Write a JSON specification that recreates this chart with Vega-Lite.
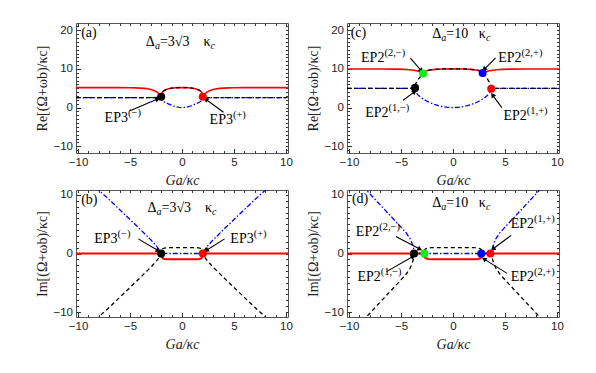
{
"$schema":"https://vega.github.io/schema/vega-lite/v6.json",
"padding":{"left":35,"top":22,"right":0,"bottom":0},
"config":{"view":{"stroke":"#555","strokeWidth":1},
"axis":{"minExtent":0,"labelFlush":false,"labelOverlap":false,"grid":false,"domain":false,"tickColor":"#333","tickWidth":1,"labelFont":"Liberation Sans","labelFontSize":11.5,"labelColor":"#222","titleFont":"Liberation Serif","titleFontSize":14,"titleFontWeight":"normal","titleColor":"#222","labelPadding":8,"titlePadding":3},
"axisX":{"titleFontStyle":"italic","titleFontSize":14,"titlePadding":5.5}},
"datasets":{
"h":[{"x":0,"y":0}],
"ca":[{"s":"r","x":-10.2,"y":5.18},{"s":"r","x":-8,"y":5.18},{"s":"r","x":-6,"y":5.16},{"s":"r","x":-5,"y":5.13},{"s":"r","x":-4.5,"y":5.1},{"s":"r","x":-4,"y":5.05},{"s":"r","x":-3.6,"y":4.97},{"s":"r","x":-3.2,"y":4.82},{"s":"r","x":-2.9,"y":4.62},{"s":"r","x":-2.6,"y":4.3},{"s":"r","x":-2.4,"y":4.0},{"s":"r","x":-2.25,"y":3.65},{"s":"r","x":-2.12,"y":3.3},{"s":"r","x":-2.03,"y":3.0},{"s":"r","x":-2,"y":2.8},{"s":"r","x":-1.98,"y":3.3},{"s":"r","x":-1.94,"y":3.7},{"s":"r","x":-1.87,"y":4.05},{"s":"r","x":-1.75,"y":4.35},{"s":"r","x":-1.55,"y":4.65},{"s":"r","x":-1.3,"y":4.87},{"s":"r","x":-1,"y":5.03},{"s":"r","x":-0.6,"y":5.14},{"s":"r","x":-0.3,"y":5.18},{"s":"r","x":0,"y":5.2},{"s":"r","x":0.3,"y":5.18},{"s":"r","x":0.6,"y":5.14},{"s":"r","x":1,"y":5.03},{"s":"r","x":1.3,"y":4.87},{"s":"r","x":1.55,"y":4.65},{"s":"r","x":1.75,"y":4.35},{"s":"r","x":1.87,"y":4.05},{"s":"r","x":1.94,"y":3.7},{"s":"r","x":1.98,"y":3.3},{"s":"r","x":2,"y":2.8},{"s":"r","x":2.03,"y":3.0},{"s":"r","x":2.12,"y":3.3},{"s":"r","x":2.25,"y":3.65},{"s":"r","x":2.4,"y":4.0},{"s":"r","x":2.6,"y":4.3},{"s":"r","x":2.9,"y":4.62},{"s":"r","x":3.2,"y":4.82},{"s":"r","x":3.6,"y":4.97},{"s":"r","x":4,"y":5.05},{"s":"r","x":4.5,"y":5.1},{"s":"r","x":5,"y":5.13},{"s":"r","x":6,"y":5.16},{"s":"r","x":8,"y":5.18},{"s":"r","x":10.2,"y":5.18},
{"s":"k","x":-10.2,"y":2.6},{"s":"k","x":-3,"y":2.6},{"s":"k","x":-2.4,"y":2.61},{"s":"k","x":-2.15,"y":2.66},{"s":"k","x":-2.05,"y":2.72},{"s":"k","x":-2,"y":2.8},{"s":"k","x":-1.98,"y":3.3},{"s":"k","x":-1.94,"y":3.7},{"s":"k","x":-1.87,"y":4.05},{"s":"k","x":-1.75,"y":4.35},{"s":"k","x":-1.55,"y":4.65},{"s":"k","x":-1.3,"y":4.87},{"s":"k","x":-1,"y":5.03},{"s":"k","x":-0.6,"y":5.14},{"s":"k","x":-0.3,"y":5.18},{"s":"k","x":0,"y":5.2},{"s":"k","x":0.3,"y":5.18},{"s":"k","x":0.6,"y":5.14},{"s":"k","x":1,"y":5.03},{"s":"k","x":1.3,"y":4.87},{"s":"k","x":1.55,"y":4.65},{"s":"k","x":1.75,"y":4.35},{"s":"k","x":1.87,"y":4.05},{"s":"k","x":1.94,"y":3.7},{"s":"k","x":1.98,"y":3.3},{"s":"k","x":2,"y":2.8},{"s":"k","x":2.05,"y":2.72},{"s":"k","x":2.15,"y":2.66},{"s":"k","x":2.4,"y":2.61},{"s":"k","x":3,"y":2.6},{"s":"k","x":10.2,"y":2.6},
{"s":"b","x":-10.2,"y":2.6},{"s":"b","x":-3,"y":2.6},{"s":"b","x":-2.4,"y":2.61},{"s":"b","x":-2.15,"y":2.66},{"s":"b","x":-2.05,"y":2.72},{"s":"b","x":-2,"y":2.8},{"s":"b","x":-1.98,"y":2.35},{"s":"b","x":-1.93,"y":2.0},{"s":"b","x":-1.85,"y":1.75},{"s":"b","x":-1.7,"y":1.45},{"s":"b","x":-1.5,"y":1.17},{"s":"b","x":-1.25,"y":0.88},{"s":"b","x":-1,"y":0.6},{"s":"b","x":-0.75,"y":0.35},{"s":"b","x":-0.5,"y":0.16},{"s":"b","x":-0.25,"y":0.04},{"s":"b","x":0,"y":0},{"s":"b","x":0.25,"y":0.04},{"s":"b","x":0.5,"y":0.16},{"s":"b","x":0.75,"y":0.35},{"s":"b","x":1,"y":0.6},{"s":"b","x":1.25,"y":0.88},{"s":"b","x":1.5,"y":1.17},{"s":"b","x":1.7,"y":1.45},{"s":"b","x":1.85,"y":1.75},{"s":"b","x":1.93,"y":2.0},{"s":"b","x":1.98,"y":2.35},{"s":"b","x":2,"y":2.8},{"s":"b","x":2.05,"y":2.72},{"s":"b","x":2.15,"y":2.66},{"s":"b","x":2.4,"y":2.61},{"s":"b","x":3,"y":2.6},{"s":"b","x":10.2,"y":2.6}],
"cb":[{"s":"r","x":-10.2,"y":0},{"s":"r","x":-2,"y":0},{"s":"r","x":-1.98,"y":-0.4},{"s":"r","x":-1.93,"y":-0.65},{"s":"r","x":-1.85,"y":-0.82},{"s":"r","x":-1.7,"y":-0.93},{"s":"r","x":-1.45,"y":-0.99},{"s":"r","x":-1,"y":-1},{"s":"r","x":1,"y":-1},{"s":"r","x":1.45,"y":-0.99},{"s":"r","x":1.7,"y":-0.93},{"s":"r","x":1.85,"y":-0.82},{"s":"r","x":1.93,"y":-0.65},{"s":"r","x":1.98,"y":-0.4},{"s":"r","x":2,"y":0},{"s":"r","x":10.2,"y":0},
{"s":"k","x":-8.3,"y":-11.3},{"s":"k","x":-8,"y":-10.8},{"s":"k","x":-7,"y":-9.2},{"s":"k","x":-6,"y":-7.5},{"s":"k","x":-5,"y":-5.8},{"s":"k","x":-4,"y":-4.1},{"s":"k","x":-3.5,"y":-3.2},{"s":"k","x":-3,"y":-2.35},{"s":"k","x":-2.7,"y":-1.75},{"s":"k","x":-2.45,"y":-1.25},{"s":"k","x":-2.25,"y":-0.8},{"s":"k","x":-2.1,"y":-0.45},{"s":"k","x":-2,"y":0},{"s":"k","x":-1.98,"y":0.4},{"s":"k","x":-1.93,"y":0.65},{"s":"k","x":-1.85,"y":0.82},{"s":"k","x":-1.7,"y":0.93},{"s":"k","x":-1.45,"y":0.99},{"s":"k","x":-1,"y":1},{"s":"k","x":1,"y":1},{"s":"k","x":1.45,"y":0.99},{"s":"k","x":1.7,"y":0.93},{"s":"k","x":1.85,"y":0.82},{"s":"k","x":1.93,"y":0.65},{"s":"k","x":1.98,"y":0.4},{"s":"k","x":2,"y":0},{"s":"k","x":2.1,"y":-0.45},{"s":"k","x":2.25,"y":-0.8},{"s":"k","x":2.45,"y":-1.25},{"s":"k","x":2.7,"y":-1.75},{"s":"k","x":3,"y":-2.35},{"s":"k","x":3.5,"y":-3.2},{"s":"k","x":4,"y":-4.1},{"s":"k","x":5,"y":-5.8},{"s":"k","x":6,"y":-7.5},{"s":"k","x":7,"y":-9.2},{"s":"k","x":8,"y":-10.8},{"s":"k","x":8.3,"y":-11.3},
{"s":"b","x":-8.3,"y":11.3},{"s":"b","x":-8,"y":10.8},{"s":"b","x":-7,"y":9.2},{"s":"b","x":-6,"y":7.5},{"s":"b","x":-5,"y":5.8},{"s":"b","x":-4,"y":4.1},{"s":"b","x":-3.5,"y":3.2},{"s":"b","x":-3,"y":2.35},{"s":"b","x":-2.7,"y":1.75},{"s":"b","x":-2.45,"y":1.25},{"s":"b","x":-2.25,"y":0.8},{"s":"b","x":-2.1,"y":0.45},{"s":"b","x":-2,"y":0},{"s":"b","x":2,"y":0},{"s":"b","x":2.1,"y":0.45},{"s":"b","x":2.25,"y":0.8},{"s":"b","x":2.45,"y":1.25},{"s":"b","x":2.7,"y":1.75},{"s":"b","x":3,"y":2.35},{"s":"b","x":3.5,"y":3.2},{"s":"b","x":4,"y":4.1},{"s":"b","x":5,"y":5.8},{"s":"b","x":6,"y":7.5},{"s":"b","x":7,"y":9.2},{"s":"b","x":8,"y":10.8},{"s":"b","x":8.3,"y":11.3}],
"cc":[{"s":"r","x":-10.2,"y":10},{"s":"r","x":-7,"y":10},{"s":"r","x":-5.5,"y":9.97},{"s":"r","x":-4.7,"y":9.9},{"s":"r","x":-4.2,"y":9.8},{"s":"r","x":-3.8,"y":9.67},{"s":"r","x":-3.5,"y":9.52},{"s":"r","x":-3.25,"y":9.35},{"s":"r","x":-3.05,"y":9.15},{"s":"r","x":-2.93,"y":8.98},{"s":"r","x":-2.87,"y":8.85},{"s":"r","x":-2.84,"y":9.1},{"s":"r","x":-2.75,"y":9.35},{"s":"r","x":-2.55,"y":9.55},{"s":"r","x":-2.2,"y":9.75},{"s":"r","x":-1.7,"y":9.9},{"s":"r","x":-1,"y":10},{"s":"r","x":0,"y":10.05},{"s":"r","x":1,"y":10},{"s":"r","x":1.7,"y":9.9},{"s":"r","x":2.2,"y":9.75},{"s":"r","x":2.55,"y":9.55},{"s":"r","x":2.75,"y":9.35},{"s":"r","x":2.84,"y":9.1},{"s":"r","x":2.87,"y":8.85},{"s":"r","x":2.93,"y":8.98},{"s":"r","x":3.05,"y":9.15},{"s":"r","x":3.25,"y":9.35},{"s":"r","x":3.5,"y":9.52},{"s":"r","x":3.8,"y":9.67},{"s":"r","x":4.2,"y":9.8},{"s":"r","x":4.7,"y":9.9},{"s":"r","x":5.5,"y":9.97},{"s":"r","x":7,"y":10},{"s":"r","x":10.2,"y":10},
{"s":"k","x":-10.2,"y":5},{"s":"k","x":-3.9,"y":5},{"s":"k","x":-3.75,"y":5.02},{"s":"k","x":-3.7,"y":5.1},{"s":"k","x":-3.67,"y":5.6},{"s":"k","x":-3.6,"y":6.1},{"s":"k","x":-3.5,"y":6.6},{"s":"k","x":-3.35,"y":7.25},{"s":"k","x":-3.2,"y":7.8},{"s":"k","x":-3.05,"y":8.3},{"s":"k","x":-2.95,"y":8.6},{"s":"k","x":-2.87,"y":8.85},{"s":"k","x":-2.84,"y":9.1},{"s":"k","x":-2.75,"y":9.35},{"s":"k","x":-2.55,"y":9.55},{"s":"k","x":-2.2,"y":9.75},{"s":"k","x":-1.7,"y":9.9},{"s":"k","x":-1,"y":10},{"s":"k","x":0,"y":10.05},{"s":"k","x":1,"y":10},{"s":"k","x":1.7,"y":9.9},{"s":"k","x":2.2,"y":9.75},{"s":"k","x":2.55,"y":9.55},{"s":"k","x":2.75,"y":9.35},{"s":"k","x":2.84,"y":9.1},{"s":"k","x":2.87,"y":8.85},{"s":"k","x":2.95,"y":8.6},{"s":"k","x":3.05,"y":8.3},{"s":"k","x":3.2,"y":7.8},{"s":"k","x":3.35,"y":7.25},{"s":"k","x":3.5,"y":6.6},{"s":"k","x":3.6,"y":6.1},{"s":"k","x":3.67,"y":5.6},{"s":"k","x":3.7,"y":5.1},{"s":"k","x":3.75,"y":5.02},{"s":"k","x":3.9,"y":5},{"s":"k","x":10.2,"y":5},
{"s":"b","x":-10.2,"y":5},{"s":"b","x":-3.9,"y":5},{"s":"b","x":-3.75,"y":5.02},{"s":"b","x":-3.7,"y":5.1},{"s":"b","x":-3.67,"y":4.6},{"s":"b","x":-3.6,"y":4.1},{"s":"b","x":-3.5,"y":3.7},{"s":"b","x":-3.3,"y":3.1},{"s":"b","x":-3,"y":2.45},{"s":"b","x":-2.6,"y":1.8},{"s":"b","x":-2.2,"y":1.25},{"s":"b","x":-1.8,"y":0.85},{"s":"b","x":-1.4,"y":0.5},{"s":"b","x":-1,"y":0.25},{"s":"b","x":-0.5,"y":0.07},{"s":"b","x":0,"y":0},{"s":"b","x":0.5,"y":0.07},{"s":"b","x":1,"y":0.25},{"s":"b","x":1.4,"y":0.5},{"s":"b","x":1.8,"y":0.85},{"s":"b","x":2.2,"y":1.25},{"s":"b","x":2.6,"y":1.8},{"s":"b","x":3,"y":2.45},{"s":"b","x":3.3,"y":3.1},{"s":"b","x":3.5,"y":3.7},{"s":"b","x":3.6,"y":4.1},{"s":"b","x":3.67,"y":4.6},{"s":"b","x":3.7,"y":5.1},{"s":"b","x":3.75,"y":5.02},{"s":"b","x":3.9,"y":5},{"s":"b","x":10.2,"y":5}],
"cd":[{"s":"r","x":-10.2,"y":0},{"s":"r","x":-2.87,"y":0},{"s":"r","x":-2.82,"y":-0.4},{"s":"r","x":-2.75,"y":-0.62},{"s":"r","x":-2.6,"y":-0.82},{"s":"r","x":-2.4,"y":-0.93},{"s":"r","x":-2.1,"y":-0.99},{"s":"r","x":-1.6,"y":-1},{"s":"r","x":1.6,"y":-1},{"s":"r","x":2.1,"y":-0.99},{"s":"r","x":2.4,"y":-0.93},{"s":"r","x":2.6,"y":-0.82},{"s":"r","x":2.75,"y":-0.62},{"s":"r","x":2.82,"y":-0.4},{"s":"r","x":2.87,"y":0},{"s":"r","x":10.2,"y":0},
{"s":"k","x":-8.7,"y":-11.5},{"s":"k","x":-8,"y":-10.2},{"s":"k","x":-7,"y":-8.3},{"s":"k","x":-6,"y":-6.4},{"s":"k","x":-5,"y":-4.5},{"s":"k","x":-4.5,"y":-3.5},{"s":"k","x":-4.15,"y":-2.6},{"s":"k","x":-3.95,"y":-1.8},{"s":"k","x":-3.82,"y":-1.1},{"s":"k","x":-3.75,"y":-0.5},{"s":"k","x":-3.72,"y":0},{"s":"k","x":-2.87,"y":0},{"s":"k","x":-2.82,"y":0.4},{"s":"k","x":-2.75,"y":0.62},{"s":"k","x":-2.6,"y":0.82},{"s":"k","x":-2.4,"y":0.93},{"s":"k","x":-2.1,"y":0.99},{"s":"k","x":-1.6,"y":1},{"s":"k","x":1.6,"y":1},{"s":"k","x":2.1,"y":0.99},{"s":"k","x":2.4,"y":0.93},{"s":"k","x":2.6,"y":0.82},{"s":"k","x":2.75,"y":0.62},{"s":"k","x":2.82,"y":0.4},{"s":"k","x":2.87,"y":0},{"s":"k","x":3.72,"y":0},{"s":"k","x":3.75,"y":-0.5},{"s":"k","x":3.82,"y":-1.1},{"s":"k","x":3.95,"y":-1.8},{"s":"k","x":4.15,"y":-2.6},{"s":"k","x":4.5,"y":-3.5},{"s":"k","x":5,"y":-4.5},{"s":"k","x":6,"y":-6.4},{"s":"k","x":7,"y":-8.3},{"s":"k","x":8,"y":-10.2},{"s":"k","x":8.7,"y":-11.5},
{"s":"b","x":-8.7,"y":11.5},{"s":"b","x":-8,"y":10.2},{"s":"b","x":-7,"y":8.3},{"s":"b","x":-6,"y":6.4},{"s":"b","x":-5,"y":4.5},{"s":"b","x":-4.5,"y":3.5},{"s":"b","x":-4.15,"y":2.6},{"s":"b","x":-3.95,"y":1.8},{"s":"b","x":-3.82,"y":1.1},{"s":"b","x":-3.75,"y":0.5},{"s":"b","x":-3.72,"y":0},{"s":"b","x":3.72,"y":0},{"s":"b","x":3.75,"y":0.5},{"s":"b","x":3.82,"y":1.1},{"s":"b","x":3.95,"y":1.8},{"s":"b","x":4.15,"y":2.6},{"s":"b","x":4.5,"y":3.5},{"s":"b","x":5,"y":4.5},{"s":"b","x":6,"y":6.4},{"s":"b","x":7,"y":8.3},{"s":"b","x":8,"y":10.2},{"s":"b","x":8.7,"y":11.5}],
"pa":[{"x":-2,"y":2.8,"c":"k"},{"x":2,"y":2.8,"c":"r"}],
"pb":[{"x":-2,"y":0,"c":"k"},{"x":2,"y":0,"c":"r"}],
"pc":[{"x":-3.65,"y":5.1,"c":"k"},{"x":-2.87,"y":8.85,"c":"g"},{"x":2.85,"y":8.95,"c":"b"},{"x":3.68,"y":4.9,"c":"r"}],
"pd":[{"x":-3.75,"y":0,"c":"k"},{"x":-2.75,"y":0,"c":"g"},{"x":2.72,"y":0,"c":"b"},{"x":3.6,"y":0,"c":"r"}],
"la":[{"x":-5.2,"y":-2.6,"t":"EP3","sup":"(−)"},{"x":4.9,"y":-3.3,"t":"EP3","sup":"(+)"}],
"lb":[{"x":-6.2,"y":2.55,"t":"EP3","sup":"(−)"},{"x":6.9,"y":2.55,"t":"EP3","sup":"(+)"}],
"lc":[{"x":-6.6,"y":12.8,"t":"EP2","sup":"(2,−)"},{"x":6.6,"y":12.9,"t":"EP2","sup":"(2,+)"},{"x":-6.2,"y":-1.3,"t":"EP2","sup":"(1,−)"},{"x":7.1,"y":-2.1,"t":"EP2","sup":"(1,+)"}],
"ld":[{"x":-7.1,"y":3.7,"t":"EP2","sup":"(2,−)"},{"x":7.8,"y":5.1,"t":"EP2","sup":"(1,+)"},{"x":-6.95,"y":-4.1,"t":"EP2","sup":"(1,−)"},{"x":7.8,"y":-4.1,"t":"EP2","sup":"(2,+)"}],
"aa":[{"x":-5.0,"y":-0.8,"x2":-2.4,"y2":2.15},{"x":4.0,"y":-1.2,"x2":2.35,"y2":2.05}],
"ab":[{"x":-4.2,"y":2.5,"x2":-2.35,"y2":0.55},{"x":4.1,"y":2.5,"x2":2.4,"y2":0.6}],
"ac":[{"x":-4.1,"y":12.8,"x2":-3.1,"y2":9.7},{"x":4.1,"y":12.9,"x2":3.05,"y2":10.05},{"x":-4.8,"y":1.9,"x2":-3.75,"y2":4.0},{"x":4.7,"y":0,"x2":3.85,"y2":3.1}],
"ad":[{"x":-5.5,"y":2.9,"x2":-3.25,"y2":0.8},{"x":5.6,"y":3.1,"x2":3.9,"y2":0.85},{"x":-6.4,"y":-3.1,"x2":-3.9,"y2":-0.55},{"x":5.2,"y":-3.4,"x2":3.05,"y2":-1.0}],
"na":[{"x":-9.7,"y":19.3,"t":"(a)"}],
"nb":[{"x":-9.7,"y":9.2,"t":"(b)"}],
"nc":[{"x":-9.85,"y":19.3,"t":"(c)"}],
"nd":[{"x":-9.73,"y":9.35,"t":"(d)"}],
"da":[{"x":-2.61,"y":16.95,"t1":"Δ","t2":"a","t3":"=3√3\u00a0\u00a0\u00a0\u00a0κ","t4":"c"}],
"db":[{"x":-2.45,"y":7.85,"t1":"Δ","t2":"a","t3":"=3√3\u00a0\u00a0\u00a0\u00a0κ","t4":"c"}],
"dc":[{"x":-1.12,"y":19.1,"t1":"Δ","t2":"a","t3":"=10\u00a0\u00a0\u00a0κ","t4":"c"}],
"dd":[{"x":-1.12,"y":8.65,"t1":"Δ","t2":"a","t3":"=10\u00a0\u00a0\u00a0κ","t4":"c"}]
},
"vconcat":[
{"hconcat":[
{"width":212,"height":130,"resolve":{"axis":{"x":"independent","y":"independent"}},"layer":[
{"data":{"name":"h"},"mark":{"type":"point","opacity":0},"encoding":{"x":{"field":"x","type":"quantitative","scale":{"domain":[-10.2,10.2],"nice":false,"zero":false},"axis":{"orient":"bottom","labels":false,"title":null,"tickSize":-2.5,"values":[-10,-9,-8,-7,-6,-5,-4,-3,-2,-1,0,1,2,3,4,5,6,7,8,9,10]}},"y":{"field":"y","type":"quantitative","scale":{"domain":[-11.75,21.9],"nice":false,"zero":false},"axis":{"orient":"left","labels":false,"title":null,"tickSize":-2.5,"values":[-11,-10,-9,-8,-7,-6,-5,-4,-3,-2,-1,0,1,2,3,4,5,6,7,8,9,10,11,12,13,14,15,16,17,18,19,20,21]}}}},
{"layer":[
{"data":{"name":"ca"},"transform":[{"filter":"datum.s=='r'"}],"mark":{"type":"line","color":"#ff0000","strokeWidth":1.6,"clip":true},"encoding":{"x":{"field":"x","type":"quantitative","scale":{"domain":[-10.2,10.2],"nice":false,"zero":false},"axis":{"orient":"bottom","title":"Ga/κc","tickSize":-4.5,"values":[-10,-5,0,5,10]}},"y":{"field":"y","type":"quantitative","scale":{"domain":[-11.75,21.9],"nice":false,"zero":false},"axis":{"orient":"left","title":"Re[(Ω+ωb)/κc]","tickSize":-4.5,"values":[-10,-5,0,5,10,15,20]}}}},
{"data":{"name":"ca"},"transform":[{"filter":"datum.s=='b'"}],"mark":{"type":"line","color":"#0000ff","strokeWidth":1.3,"strokeDash":[5,2,1.5,2],"clip":true},"encoding":{"x":{"field":"x","type":"quantitative","scale":{"domain":[-10.2,10.2],"nice":false,"zero":false}},"y":{"field":"y","type":"quantitative","scale":{"domain":[-11.75,21.9],"nice":false,"zero":false}}}},
{"data":{"name":"ca"},"transform":[{"filter":"datum.s=='k'"}],"mark":{"type":"line","color":"#000000","strokeWidth":1.3,"strokeDash":[4,3],"clip":true},"encoding":{"x":{"field":"x","type":"quantitative","scale":{"domain":[-10.2,10.2],"nice":false,"zero":false}},"y":{"field":"y","type":"quantitative","scale":{"domain":[-11.75,21.9],"nice":false,"zero":false}}}},
{"data":{"name":"aa"},"mark":{"type":"rule","color":"#000","strokeWidth":1.1},"encoding":{"x":{"field":"x","type":"quantitative","scale":{"domain":[-10.2,10.2],"nice":false,"zero":false}},"y":{"field":"y","type":"quantitative","scale":{"domain":[-11.75,21.9],"nice":false,"zero":false}},"x2":{"field":"x2"},"y2":{"field":"y2"}}},
{"data":{"name":"aa"},"transform":[{"calculate":"atan2((datum.x2-datum.x)*10.39,(datum.y2-datum.y)*3.869)*180/PI","as":"ang"}],"mark":{"type":"point","shape":"triangle","filled":true,"color":"#000","size":30,"opacity":1},"encoding":{"x":{"field":"x2","type":"quantitative","scale":{"domain":[-10.2,10.2],"nice":false,"zero":false}},"y":{"field":"y2","type":"quantitative","scale":{"domain":[-11.75,21.9],"nice":false,"zero":false}},"angle":{"field":"ang","type":"quantitative","scale":null}}},
{"data":{"name":"pa"},"mark":{"type":"circle","size":65,"opacity":1},"encoding":{"x":{"field":"x","type":"quantitative","scale":{"domain":[-10.2,10.2],"nice":false,"zero":false}},"y":{"field":"y","type":"quantitative","scale":{"domain":[-11.75,21.9],"nice":false,"zero":false}},"color":{"field":"c","type":"nominal","scale":{"domain":["k","r","g","b"],"range":["#000000","#ff0000","#11ee11","#0000ff"]},"legend":null}}},
{"data":{"name":"la"},"mark":{"type":"text","align":"right","baseline":"middle","font":"Liberation Serif","fontSize":14,"color":"#000"},"encoding":{"x":{"field":"x","type":"quantitative","scale":{"domain":[-10.2,10.2],"nice":false,"zero":false}},"y":{"field":"y","type":"quantitative","scale":{"domain":[-11.75,21.9],"nice":false,"zero":false}},"text":{"field":"t","type":"nominal"}}},
{"data":{"name":"la"},"mark":{"type":"text","align":"left","baseline":"middle","dy":-5,"font":"Liberation Serif","fontSize":10.5,"color":"#000"},"encoding":{"x":{"field":"x","type":"quantitative","scale":{"domain":[-10.2,10.2],"nice":false,"zero":false}},"y":{"field":"y","type":"quantitative","scale":{"domain":[-11.75,21.9],"nice":false,"zero":false}},"text":{"field":"sup","type":"nominal"}}},
{"data":{"name":"na"},"mark":{"type":"text","align":"left","baseline":"middle","font":"Liberation Serif","fontSize":14,"color":"#000"},"encoding":{"x":{"field":"x","type":"quantitative","scale":{"domain":[-10.2,10.2],"nice":false,"zero":false}},"y":{"field":"y","type":"quantitative","scale":{"domain":[-11.75,21.9],"nice":false,"zero":false}},"text":{"field":"t","type":"nominal"}}},
{"data":{"name":"da"},"mark":{"type":"text","align":"right","baseline":"middle","font":"Liberation Serif","fontSize":14,"color":"#000"},"encoding":{"x":{"field":"x","type":"quantitative","scale":{"domain":[-10.2,10.2],"nice":false,"zero":false}},"y":{"field":"y","type":"quantitative","scale":{"domain":[-11.75,21.9],"nice":false,"zero":false}},"text":{"field":"t1","type":"nominal"}}},
{"data":{"name":"da"},"mark":{"type":"text","align":"left","baseline":"middle","dy":4,"font":"Liberation Serif","fontStyle":"italic","fontSize":10,"color":"#000"},"encoding":{"x":{"field":"x","type":"quantitative","scale":{"domain":[-10.2,10.2],"nice":false,"zero":false}},"y":{"field":"y","type":"quantitative","scale":{"domain":[-11.75,21.9],"nice":false,"zero":false}},"text":{"field":"t2","type":"nominal"}}},
{"data":{"name":"da"},"mark":{"type":"text","align":"left","baseline":"middle","dx":5,"font":"Liberation Serif","fontSize":14,"color":"#000"},"encoding":{"x":{"field":"x","type":"quantitative","scale":{"domain":[-10.2,10.2],"nice":false,"zero":false}},"y":{"field":"y","type":"quantitative","scale":{"domain":[-11.75,21.9],"nice":false,"zero":false}},"text":{"field":"t3","type":"nominal"}}},
{"data":{"name":"da"},"mark":{"type":"text","align":"left","baseline":"middle","dx":55.5,"dy":4,"font":"Liberation Serif","fontStyle":"italic","fontSize":10,"color":"#000"},"encoding":{"x":{"field":"x","type":"quantitative","scale":{"domain":[-10.2,10.2],"nice":false,"zero":false}},"y":{"field":"y","type":"quantitative","scale":{"domain":[-11.75,21.9],"nice":false,"zero":false}},"text":{"field":"t4","type":"nominal"}}}
]},
{"data":{"name":"h"},"mark":{"type":"point","opacity":0},"encoding":{"x":{"field":"x","type":"quantitative","scale":{"domain":[-10.2,10.2],"nice":false,"zero":false},"axis":{"orient":"top","labels":false,"title":null,"tickSize":-2.5,"values":[-10,-9,-8,-7,-6,-5,-4,-3,-2,-1,0,1,2,3,4,5,6,7,8,9,10]}},"y":{"field":"y","type":"quantitative","scale":{"domain":[-11.75,21.9],"nice":false,"zero":false},"axis":{"orient":"right","labels":false,"title":null,"tickSize":-2.5,"values":[-11,-10,-9,-8,-7,-6,-5,-4,-3,-2,-1,0,1,2,3,4,5,6,7,8,9,10,11,12,13,14,15,16,17,18,19,20,21]}}}}
]},
{"width":212,"height":130,"resolve":{"axis":{"x":"independent","y":"independent"}},"layer":[
{"data":{"name":"h"},"mark":{"type":"point","opacity":0},"encoding":{"x":{"field":"x","type":"quantitative","scale":{"domain":[-10.2,10.2],"nice":false,"zero":false},"axis":{"orient":"bottom","labels":false,"title":null,"tickSize":-2.5,"values":[-10,-9,-8,-7,-6,-5,-4,-3,-2,-1,0,1,2,3,4,5,6,7,8,9,10]}},"y":{"field":"y","type":"quantitative","scale":{"domain":[-11.75,21.9],"nice":false,"zero":false},"axis":{"orient":"left","labels":false,"title":null,"tickSize":-2.5,"values":[-11,-10,-9,-8,-7,-6,-5,-4,-3,-2,-1,0,1,2,3,4,5,6,7,8,9,10,11,12,13,14,15,16,17,18,19,20,21]}}}},
{"layer":[
{"data":{"name":"cc"},"transform":[{"filter":"datum.s=='r'"}],"mark":{"type":"line","color":"#ff0000","strokeWidth":1.6,"clip":true},"encoding":{"x":{"field":"x","type":"quantitative","scale":{"domain":[-10.2,10.2],"nice":false,"zero":false},"axis":{"orient":"bottom","title":"Ga/κc","tickSize":-4.5,"values":[-10,-5,0,5,10]}},"y":{"field":"y","type":"quantitative","scale":{"domain":[-11.75,21.9],"nice":false,"zero":false},"axis":{"orient":"left","title":"Re[(Ω+ωb)/κc]","tickSize":-4.5,"values":[-10,-5,0,5,10,15,20]}}}},
{"data":{"name":"cc"},"transform":[{"filter":"datum.s=='b'"}],"mark":{"type":"line","color":"#0000ff","strokeWidth":1.3,"strokeDash":[5,2,1.5,2],"clip":true},"encoding":{"x":{"field":"x","type":"quantitative","scale":{"domain":[-10.2,10.2],"nice":false,"zero":false}},"y":{"field":"y","type":"quantitative","scale":{"domain":[-11.75,21.9],"nice":false,"zero":false}}}},
{"data":{"name":"cc"},"transform":[{"filter":"datum.s=='k'"}],"mark":{"type":"line","color":"#000000","strokeWidth":1.3,"strokeDash":[4,3],"clip":true},"encoding":{"x":{"field":"x","type":"quantitative","scale":{"domain":[-10.2,10.2],"nice":false,"zero":false}},"y":{"field":"y","type":"quantitative","scale":{"domain":[-11.75,21.9],"nice":false,"zero":false}}}},
{"data":{"name":"ac"},"mark":{"type":"rule","color":"#000","strokeWidth":1.1},"encoding":{"x":{"field":"x","type":"quantitative","scale":{"domain":[-10.2,10.2],"nice":false,"zero":false}},"y":{"field":"y","type":"quantitative","scale":{"domain":[-11.75,21.9],"nice":false,"zero":false}},"x2":{"field":"x2"},"y2":{"field":"y2"}}},
{"data":{"name":"ac"},"transform":[{"calculate":"atan2((datum.x2-datum.x)*10.39,(datum.y2-datum.y)*3.869)*180/PI","as":"ang"}],"mark":{"type":"point","shape":"triangle","filled":true,"color":"#000","size":30,"opacity":1},"encoding":{"x":{"field":"x2","type":"quantitative","scale":{"domain":[-10.2,10.2],"nice":false,"zero":false}},"y":{"field":"y2","type":"quantitative","scale":{"domain":[-11.75,21.9],"nice":false,"zero":false}},"angle":{"field":"ang","type":"quantitative","scale":null}}},
{"data":{"name":"pc"},"mark":{"type":"circle","size":65,"opacity":1},"encoding":{"x":{"field":"x","type":"quantitative","scale":{"domain":[-10.2,10.2],"nice":false,"zero":false}},"y":{"field":"y","type":"quantitative","scale":{"domain":[-11.75,21.9],"nice":false,"zero":false}},"color":{"field":"c","type":"nominal","scale":{"domain":["k","r","g","b"],"range":["#000000","#ff0000","#11ee11","#0000ff"]},"legend":null}}},
{"data":{"name":"lc"},"mark":{"type":"text","align":"right","baseline":"middle","font":"Liberation Serif","fontSize":14,"color":"#000"},"encoding":{"x":{"field":"x","type":"quantitative","scale":{"domain":[-10.2,10.2],"nice":false,"zero":false}},"y":{"field":"y","type":"quantitative","scale":{"domain":[-11.75,21.9],"nice":false,"zero":false}},"text":{"field":"t","type":"nominal"}}},
{"data":{"name":"lc"},"mark":{"type":"text","align":"left","baseline":"middle","dy":-5,"font":"Liberation Serif","fontSize":10.5,"color":"#000"},"encoding":{"x":{"field":"x","type":"quantitative","scale":{"domain":[-10.2,10.2],"nice":false,"zero":false}},"y":{"field":"y","type":"quantitative","scale":{"domain":[-11.75,21.9],"nice":false,"zero":false}},"text":{"field":"sup","type":"nominal"}}},
{"data":{"name":"nc"},"mark":{"type":"text","align":"left","baseline":"middle","font":"Liberation Serif","fontSize":14,"color":"#000"},"encoding":{"x":{"field":"x","type":"quantitative","scale":{"domain":[-10.2,10.2],"nice":false,"zero":false}},"y":{"field":"y","type":"quantitative","scale":{"domain":[-11.75,21.9],"nice":false,"zero":false}},"text":{"field":"t","type":"nominal"}}},
{"data":{"name":"dc"},"mark":{"type":"text","align":"right","baseline":"middle","font":"Liberation Serif","fontSize":14,"color":"#000"},"encoding":{"x":{"field":"x","type":"quantitative","scale":{"domain":[-10.2,10.2],"nice":false,"zero":false}},"y":{"field":"y","type":"quantitative","scale":{"domain":[-11.75,21.9],"nice":false,"zero":false}},"text":{"field":"t1","type":"nominal"}}},
{"data":{"name":"dc"},"mark":{"type":"text","align":"left","baseline":"middle","dy":4,"font":"Liberation Serif","fontStyle":"italic","fontSize":10,"color":"#000"},"encoding":{"x":{"field":"x","type":"quantitative","scale":{"domain":[-10.2,10.2],"nice":false,"zero":false}},"y":{"field":"y","type":"quantitative","scale":{"domain":[-11.75,21.9],"nice":false,"zero":false}},"text":{"field":"t2","type":"nominal"}}},
{"data":{"name":"dc"},"mark":{"type":"text","align":"left","baseline":"middle","dx":5,"font":"Liberation Serif","fontSize":14,"color":"#000"},"encoding":{"x":{"field":"x","type":"quantitative","scale":{"domain":[-10.2,10.2],"nice":false,"zero":false}},"y":{"field":"y","type":"quantitative","scale":{"domain":[-11.75,21.9],"nice":false,"zero":false}},"text":{"field":"t3","type":"nominal"}}},
{"data":{"name":"dc"},"mark":{"type":"text","align":"left","baseline":"middle","dx":44.7,"dy":4,"font":"Liberation Serif","fontStyle":"italic","fontSize":10,"color":"#000"},"encoding":{"x":{"field":"x","type":"quantitative","scale":{"domain":[-10.2,10.2],"nice":false,"zero":false}},"y":{"field":"y","type":"quantitative","scale":{"domain":[-11.75,21.9],"nice":false,"zero":false}},"text":{"field":"t4","type":"nominal"}}}
]},
{"data":{"name":"h"},"mark":{"type":"point","opacity":0},"encoding":{"x":{"field":"x","type":"quantitative","scale":{"domain":[-10.2,10.2],"nice":false,"zero":false},"axis":{"orient":"top","labels":false,"title":null,"tickSize":-2.5,"values":[-10,-9,-8,-7,-6,-5,-4,-3,-2,-1,0,1,2,3,4,5,6,7,8,9,10]}},"y":{"field":"y","type":"quantitative","scale":{"domain":[-11.75,21.9],"nice":false,"zero":false},"axis":{"orient":"right","labels":false,"title":null,"tickSize":-2.5,"values":[-11,-10,-9,-8,-7,-6,-5,-4,-3,-2,-1,0,1,2,3,4,5,6,7,8,9,10,11,12,13,14,15,16,17,18,19,20,21]}}}}
]}
],"spacing":13},
{"hconcat":[
{"width":212,"height":127,"resolve":{"axis":{"x":"independent","y":"independent"}},"layer":[
{"data":{"name":"h"},"mark":{"type":"point","opacity":0},"encoding":{"x":{"field":"x","type":"quantitative","scale":{"domain":[-10.2,10.2],"nice":false,"zero":false},"axis":{"orient":"bottom","labels":false,"title":null,"tickSize":-2.5,"values":[-10,-9,-8,-7,-6,-5,-4,-3,-2,-1,0,1,2,3,4,5,6,7,8,9,10]}},"y":{"field":"y","type":"quantitative","scale":{"domain":[-10.85,10.85],"nice":false,"zero":false},"axis":{"orient":"left","labels":false,"title":null,"tickSize":-2.5,"values":[-10,-9,-8,-7,-6,-5,-4,-3,-2,-1,0,1,2,3,4,5,6,7,8,9,10]}}}},
{"layer":[
{"data":{"name":"cb"},"transform":[{"filter":"datum.s=='r'"}],"mark":{"type":"line","color":"#ff0000","strokeWidth":2,"clip":true},"encoding":{"x":{"field":"x","type":"quantitative","scale":{"domain":[-10.2,10.2],"nice":false,"zero":false},"axis":{"orient":"bottom","title":"Ga/κc","tickSize":-4.5,"values":[-10,-5,0,5,10]}},"y":{"field":"y","type":"quantitative","scale":{"domain":[-10.85,10.85],"nice":false,"zero":false},"axis":{"orient":"left","title":"Im[(Ω+ωb)/κc]","tickSize":-4.5,"values":[-10,-5,0,5,10]}}}},
{"data":{"name":"cb"},"transform":[{"filter":"datum.s=='b'"}],"mark":{"type":"line","color":"#0000ff","strokeWidth":1.3,"strokeDash":[5,2,1.5,2],"clip":true},"encoding":{"x":{"field":"x","type":"quantitative","scale":{"domain":[-10.2,10.2],"nice":false,"zero":false}},"y":{"field":"y","type":"quantitative","scale":{"domain":[-10.85,10.85],"nice":false,"zero":false}}}},
{"data":{"name":"cb"},"transform":[{"filter":"datum.s=='k'"}],"mark":{"type":"line","color":"#000000","strokeWidth":1.3,"strokeDash":[4,3],"clip":true},"encoding":{"x":{"field":"x","type":"quantitative","scale":{"domain":[-10.2,10.2],"nice":false,"zero":false}},"y":{"field":"y","type":"quantitative","scale":{"domain":[-10.85,10.85],"nice":false,"zero":false}}}},
{"data":{"name":"ab"},"mark":{"type":"rule","color":"#000","strokeWidth":1.1},"encoding":{"x":{"field":"x","type":"quantitative","scale":{"domain":[-10.2,10.2],"nice":false,"zero":false}},"y":{"field":"y","type":"quantitative","scale":{"domain":[-10.85,10.85],"nice":false,"zero":false}},"x2":{"field":"x2"},"y2":{"field":"y2"}}},
{"data":{"name":"ab"},"transform":[{"calculate":"atan2((datum.x2-datum.x)*10.39,(datum.y2-datum.y)*5.853)*180/PI","as":"ang"}],"mark":{"type":"point","shape":"triangle","filled":true,"color":"#000","size":30,"opacity":1},"encoding":{"x":{"field":"x2","type":"quantitative","scale":{"domain":[-10.2,10.2],"nice":false,"zero":false}},"y":{"field":"y2","type":"quantitative","scale":{"domain":[-10.85,10.85],"nice":false,"zero":false}},"angle":{"field":"ang","type":"quantitative","scale":null}}},
{"data":{"name":"pb"},"mark":{"type":"circle","size":65,"opacity":1},"encoding":{"x":{"field":"x","type":"quantitative","scale":{"domain":[-10.2,10.2],"nice":false,"zero":false}},"y":{"field":"y","type":"quantitative","scale":{"domain":[-10.85,10.85],"nice":false,"zero":false}},"color":{"field":"c","type":"nominal","scale":{"domain":["k","r","g","b"],"range":["#000000","#ff0000","#11ee11","#0000ff"]},"legend":null}}},
{"data":{"name":"lb"},"mark":{"type":"text","align":"right","baseline":"middle","font":"Liberation Serif","fontSize":14,"color":"#000"},"encoding":{"x":{"field":"x","type":"quantitative","scale":{"domain":[-10.2,10.2],"nice":false,"zero":false}},"y":{"field":"y","type":"quantitative","scale":{"domain":[-10.85,10.85],"nice":false,"zero":false}},"text":{"field":"t","type":"nominal"}}},
{"data":{"name":"lb"},"mark":{"type":"text","align":"left","baseline":"middle","dy":-5,"font":"Liberation Serif","fontSize":10.5,"color":"#000"},"encoding":{"x":{"field":"x","type":"quantitative","scale":{"domain":[-10.2,10.2],"nice":false,"zero":false}},"y":{"field":"y","type":"quantitative","scale":{"domain":[-10.85,10.85],"nice":false,"zero":false}},"text":{"field":"sup","type":"nominal"}}},
{"data":{"name":"nb"},"mark":{"type":"text","align":"left","baseline":"middle","font":"Liberation Serif","fontSize":14,"color":"#000"},"encoding":{"x":{"field":"x","type":"quantitative","scale":{"domain":[-10.2,10.2],"nice":false,"zero":false}},"y":{"field":"y","type":"quantitative","scale":{"domain":[-10.85,10.85],"nice":false,"zero":false}},"text":{"field":"t","type":"nominal"}}},
{"data":{"name":"db"},"mark":{"type":"text","align":"right","baseline":"middle","font":"Liberation Serif","fontSize":14,"color":"#000"},"encoding":{"x":{"field":"x","type":"quantitative","scale":{"domain":[-10.2,10.2],"nice":false,"zero":false}},"y":{"field":"y","type":"quantitative","scale":{"domain":[-10.85,10.85],"nice":false,"zero":false}},"text":{"field":"t1","type":"nominal"}}},
{"data":{"name":"db"},"mark":{"type":"text","align":"left","baseline":"middle","dy":4,"font":"Liberation Serif","fontStyle":"italic","fontSize":10,"color":"#000"},"encoding":{"x":{"field":"x","type":"quantitative","scale":{"domain":[-10.2,10.2],"nice":false,"zero":false}},"y":{"field":"y","type":"quantitative","scale":{"domain":[-10.85,10.85],"nice":false,"zero":false}},"text":{"field":"t2","type":"nominal"}}},
{"data":{"name":"db"},"mark":{"type":"text","align":"left","baseline":"middle","dx":5,"font":"Liberation Serif","fontSize":14,"color":"#000"},"encoding":{"x":{"field":"x","type":"quantitative","scale":{"domain":[-10.2,10.2],"nice":false,"zero":false}},"y":{"field":"y","type":"quantitative","scale":{"domain":[-10.85,10.85],"nice":false,"zero":false}},"text":{"field":"t3","type":"nominal"}}},
{"data":{"name":"db"},"mark":{"type":"text","align":"left","baseline":"middle","dx":55.5,"dy":4,"font":"Liberation Serif","fontStyle":"italic","fontSize":10,"color":"#000"},"encoding":{"x":{"field":"x","type":"quantitative","scale":{"domain":[-10.2,10.2],"nice":false,"zero":false}},"y":{"field":"y","type":"quantitative","scale":{"domain":[-10.85,10.85],"nice":false,"zero":false}},"text":{"field":"t4","type":"nominal"}}}
]},
{"data":{"name":"h"},"mark":{"type":"point","opacity":0},"encoding":{"x":{"field":"x","type":"quantitative","scale":{"domain":[-10.2,10.2],"nice":false,"zero":false},"axis":{"orient":"top","labels":false,"title":null,"tickSize":-2.5,"values":[-10,-9,-8,-7,-6,-5,-4,-3,-2,-1,0,1,2,3,4,5,6,7,8,9,10]}},"y":{"field":"y","type":"quantitative","scale":{"domain":[-10.85,10.85],"nice":false,"zero":false},"axis":{"orient":"right","labels":false,"title":null,"tickSize":-2.5,"values":[-10,-9,-8,-7,-6,-5,-4,-3,-2,-1,0,1,2,3,4,5,6,7,8,9,10]}}}}
]},
{"width":212,"height":127,"resolve":{"axis":{"x":"independent","y":"independent"}},"layer":[
{"data":{"name":"h"},"mark":{"type":"point","opacity":0},"encoding":{"x":{"field":"x","type":"quantitative","scale":{"domain":[-10.2,10.2],"nice":false,"zero":false},"axis":{"orient":"bottom","labels":false,"title":null,"tickSize":-2.5,"values":[-10,-9,-8,-7,-6,-5,-4,-3,-2,-1,0,1,2,3,4,5,6,7,8,9,10]}},"y":{"field":"y","type":"quantitative","scale":{"domain":[-10.85,10.85],"nice":false,"zero":false},"axis":{"orient":"left","labels":false,"title":null,"tickSize":-2.5,"values":[-10,-9,-8,-7,-6,-5,-4,-3,-2,-1,0,1,2,3,4,5,6,7,8,9,10]}}}},
{"layer":[
{"data":{"name":"cd"},"transform":[{"filter":"datum.s=='r'"}],"mark":{"type":"line","color":"#ff0000","strokeWidth":2,"clip":true},"encoding":{"x":{"field":"x","type":"quantitative","scale":{"domain":[-10.2,10.2],"nice":false,"zero":false},"axis":{"orient":"bottom","title":"Ga/κc","tickSize":-4.5,"values":[-10,-5,0,5,10]}},"y":{"field":"y","type":"quantitative","scale":{"domain":[-10.85,10.85],"nice":false,"zero":false},"axis":{"orient":"left","title":"Im[(Ω+ωb)/κc]","tickSize":-4.5,"values":[-10,-5,0,5,10]}}}},
{"data":{"name":"cd"},"transform":[{"filter":"datum.s=='b'"}],"mark":{"type":"line","color":"#0000ff","strokeWidth":1.3,"strokeDash":[5,2,1.5,2],"clip":true},"encoding":{"x":{"field":"x","type":"quantitative","scale":{"domain":[-10.2,10.2],"nice":false,"zero":false}},"y":{"field":"y","type":"quantitative","scale":{"domain":[-10.85,10.85],"nice":false,"zero":false}}}},
{"data":{"name":"cd"},"transform":[{"filter":"datum.s=='k'"}],"mark":{"type":"line","color":"#000000","strokeWidth":1.3,"strokeDash":[4,3],"clip":true},"encoding":{"x":{"field":"x","type":"quantitative","scale":{"domain":[-10.2,10.2],"nice":false,"zero":false}},"y":{"field":"y","type":"quantitative","scale":{"domain":[-10.85,10.85],"nice":false,"zero":false}}}},
{"data":{"name":"ad"},"mark":{"type":"rule","color":"#000","strokeWidth":1.1},"encoding":{"x":{"field":"x","type":"quantitative","scale":{"domain":[-10.2,10.2],"nice":false,"zero":false}},"y":{"field":"y","type":"quantitative","scale":{"domain":[-10.85,10.85],"nice":false,"zero":false}},"x2":{"field":"x2"},"y2":{"field":"y2"}}},
{"data":{"name":"ad"},"transform":[{"calculate":"atan2((datum.x2-datum.x)*10.39,(datum.y2-datum.y)*5.853)*180/PI","as":"ang"}],"mark":{"type":"point","shape":"triangle","filled":true,"color":"#000","size":30,"opacity":1},"encoding":{"x":{"field":"x2","type":"quantitative","scale":{"domain":[-10.2,10.2],"nice":false,"zero":false}},"y":{"field":"y2","type":"quantitative","scale":{"domain":[-10.85,10.85],"nice":false,"zero":false}},"angle":{"field":"ang","type":"quantitative","scale":null}}},
{"data":{"name":"pd"},"mark":{"type":"circle","size":65,"opacity":1},"encoding":{"x":{"field":"x","type":"quantitative","scale":{"domain":[-10.2,10.2],"nice":false,"zero":false}},"y":{"field":"y","type":"quantitative","scale":{"domain":[-10.85,10.85],"nice":false,"zero":false}},"color":{"field":"c","type":"nominal","scale":{"domain":["k","r","g","b"],"range":["#000000","#ff0000","#11ee11","#0000ff"]},"legend":null}}},
{"data":{"name":"ld"},"mark":{"type":"text","align":"right","baseline":"middle","font":"Liberation Serif","fontSize":14,"color":"#000"},"encoding":{"x":{"field":"x","type":"quantitative","scale":{"domain":[-10.2,10.2],"nice":false,"zero":false}},"y":{"field":"y","type":"quantitative","scale":{"domain":[-10.85,10.85],"nice":false,"zero":false}},"text":{"field":"t","type":"nominal"}}},
{"data":{"name":"ld"},"mark":{"type":"text","align":"left","baseline":"middle","dy":-5,"font":"Liberation Serif","fontSize":10.5,"color":"#000"},"encoding":{"x":{"field":"x","type":"quantitative","scale":{"domain":[-10.2,10.2],"nice":false,"zero":false}},"y":{"field":"y","type":"quantitative","scale":{"domain":[-10.85,10.85],"nice":false,"zero":false}},"text":{"field":"sup","type":"nominal"}}},
{"data":{"name":"nd"},"mark":{"type":"text","align":"left","baseline":"middle","font":"Liberation Serif","fontSize":14,"color":"#000"},"encoding":{"x":{"field":"x","type":"quantitative","scale":{"domain":[-10.2,10.2],"nice":false,"zero":false}},"y":{"field":"y","type":"quantitative","scale":{"domain":[-10.85,10.85],"nice":false,"zero":false}},"text":{"field":"t","type":"nominal"}}},
{"data":{"name":"dd"},"mark":{"type":"text","align":"right","baseline":"middle","font":"Liberation Serif","fontSize":14,"color":"#000"},"encoding":{"x":{"field":"x","type":"quantitative","scale":{"domain":[-10.2,10.2],"nice":false,"zero":false}},"y":{"field":"y","type":"quantitative","scale":{"domain":[-10.85,10.85],"nice":false,"zero":false}},"text":{"field":"t1","type":"nominal"}}},
{"data":{"name":"dd"},"mark":{"type":"text","align":"left","baseline":"middle","dy":4,"font":"Liberation Serif","fontStyle":"italic","fontSize":10,"color":"#000"},"encoding":{"x":{"field":"x","type":"quantitative","scale":{"domain":[-10.2,10.2],"nice":false,"zero":false}},"y":{"field":"y","type":"quantitative","scale":{"domain":[-10.85,10.85],"nice":false,"zero":false}},"text":{"field":"t2","type":"nominal"}}},
{"data":{"name":"dd"},"mark":{"type":"text","align":"left","baseline":"middle","dx":5,"font":"Liberation Serif","fontSize":14,"color":"#000"},"encoding":{"x":{"field":"x","type":"quantitative","scale":{"domain":[-10.2,10.2],"nice":false,"zero":false}},"y":{"field":"y","type":"quantitative","scale":{"domain":[-10.85,10.85],"nice":false,"zero":false}},"text":{"field":"t3","type":"nominal"}}},
{"data":{"name":"dd"},"mark":{"type":"text","align":"left","baseline":"middle","dx":44.7,"dy":4,"font":"Liberation Serif","fontStyle":"italic","fontSize":10,"color":"#000"},"encoding":{"x":{"field":"x","type":"quantitative","scale":{"domain":[-10.2,10.2],"nice":false,"zero":false}},"y":{"field":"y","type":"quantitative","scale":{"domain":[-10.85,10.85],"nice":false,"zero":false}},"text":{"field":"t4","type":"nominal"}}}
]},
{"data":{"name":"h"},"mark":{"type":"point","opacity":0},"encoding":{"x":{"field":"x","type":"quantitative","scale":{"domain":[-10.2,10.2],"nice":false,"zero":false},"axis":{"orient":"top","labels":false,"title":null,"tickSize":-2.5,"values":[-10,-9,-8,-7,-6,-5,-4,-3,-2,-1,0,1,2,3,4,5,6,7,8,9,10]}},"y":{"field":"y","type":"quantitative","scale":{"domain":[-10.85,10.85],"nice":false,"zero":false},"axis":{"orient":"right","labels":false,"title":null,"tickSize":-2.5,"values":[-10,-9,-8,-7,-6,-5,-4,-3,-2,-1,0,1,2,3,4,5,6,7,8,9,10]}}}}
]}
],"spacing":13}
],"spacing":0}
